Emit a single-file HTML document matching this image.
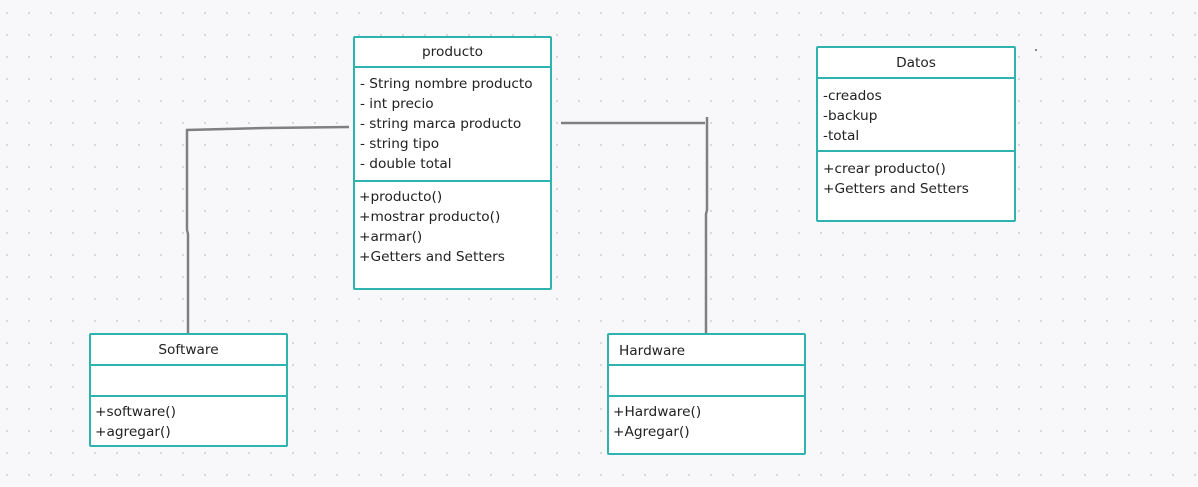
<!DOCTYPE html>
<html><head><meta charset="utf-8"><style>
html,body{margin:0;padding:0}
body{width:1198px;height:487px;position:relative;overflow:hidden;background-color:#f8f8fa;
background-image:radial-gradient(circle,#d6d6dc 1px,transparent 1.3px);background-size:22px 22px;background-position:-4px 2px;
font-family:"DejaVu Sans","Liberation Sans",sans-serif;font-size:13.7px;color:#222}
.b{position:absolute;background:#fff;border:2px solid #2fb3ae;border-radius:2px;box-sizing:border-box}
.s{position:absolute;left:0;right:0;border-top:2px solid #2fb3ae}
.t{position:absolute;left:0;right:0;text-align:center}
.l{position:absolute;left:5px;line-height:20px;white-space:pre}
</style></head><body>
<svg width="1198" height="487" style="position:absolute;left:0;top:0">
<g stroke="#808080" stroke-width="2.5" fill="none">
<polyline points="349,127 265,128 187,130 187,230 188,234 188,333"/>
<polyline points="561,123 705,123"/>
<polyline points="707,117 707,210 706,214 706,333"/>
</g>
<circle cx="1036" cy="50" r="1" fill="#666"/>
</svg>

<div class="b" style="left:353px;top:36px;width:199px;height:254px">
<div class="t" style="top:6px">producto</div>
<div class="s" style="top:28px"></div>
<div class="l" style="top:36px">- String nombre producto
- int precio
- string marca producto
- string tipo
- double total</div>
<div class="s" style="top:142px"></div>
<div class="l" style="top:149px;left:4px">+producto()
+mostrar producto()
+armar()
+Getters and Setters</div>
</div>

<div class="b" style="left:816px;top:46px;width:200px;height:176px">
<div class="t" style="top:7px">Datos</div>
<div class="s" style="top:29px"></div>
<div class="l" style="top:38px">-creados
-backup
-total</div>
<div class="s" style="top:102px"></div>
<div class="l" style="top:111px">+crear producto()
+Getters and Setters</div>
</div>

<div class="b" style="left:89px;top:333px;width:199px;height:114px">
<div class="t" style="top:7px">Software</div>
<div class="s" style="top:29px"></div>
<div class="s" style="top:60px"></div>
<div class="l" style="top:67px;left:4px">+software()
+agregar()</div>
</div>

<div class="b" style="left:607px;top:333px;width:199px;height:122px">
<div class="l" style="top:6px;left:10px">Hardware</div>
<div class="s" style="top:29px"></div>
<div class="s" style="top:60px"></div>
<div class="l" style="top:67px;left:4px">+Hardware()
+Agregar()</div>
</div>
</body></html>
